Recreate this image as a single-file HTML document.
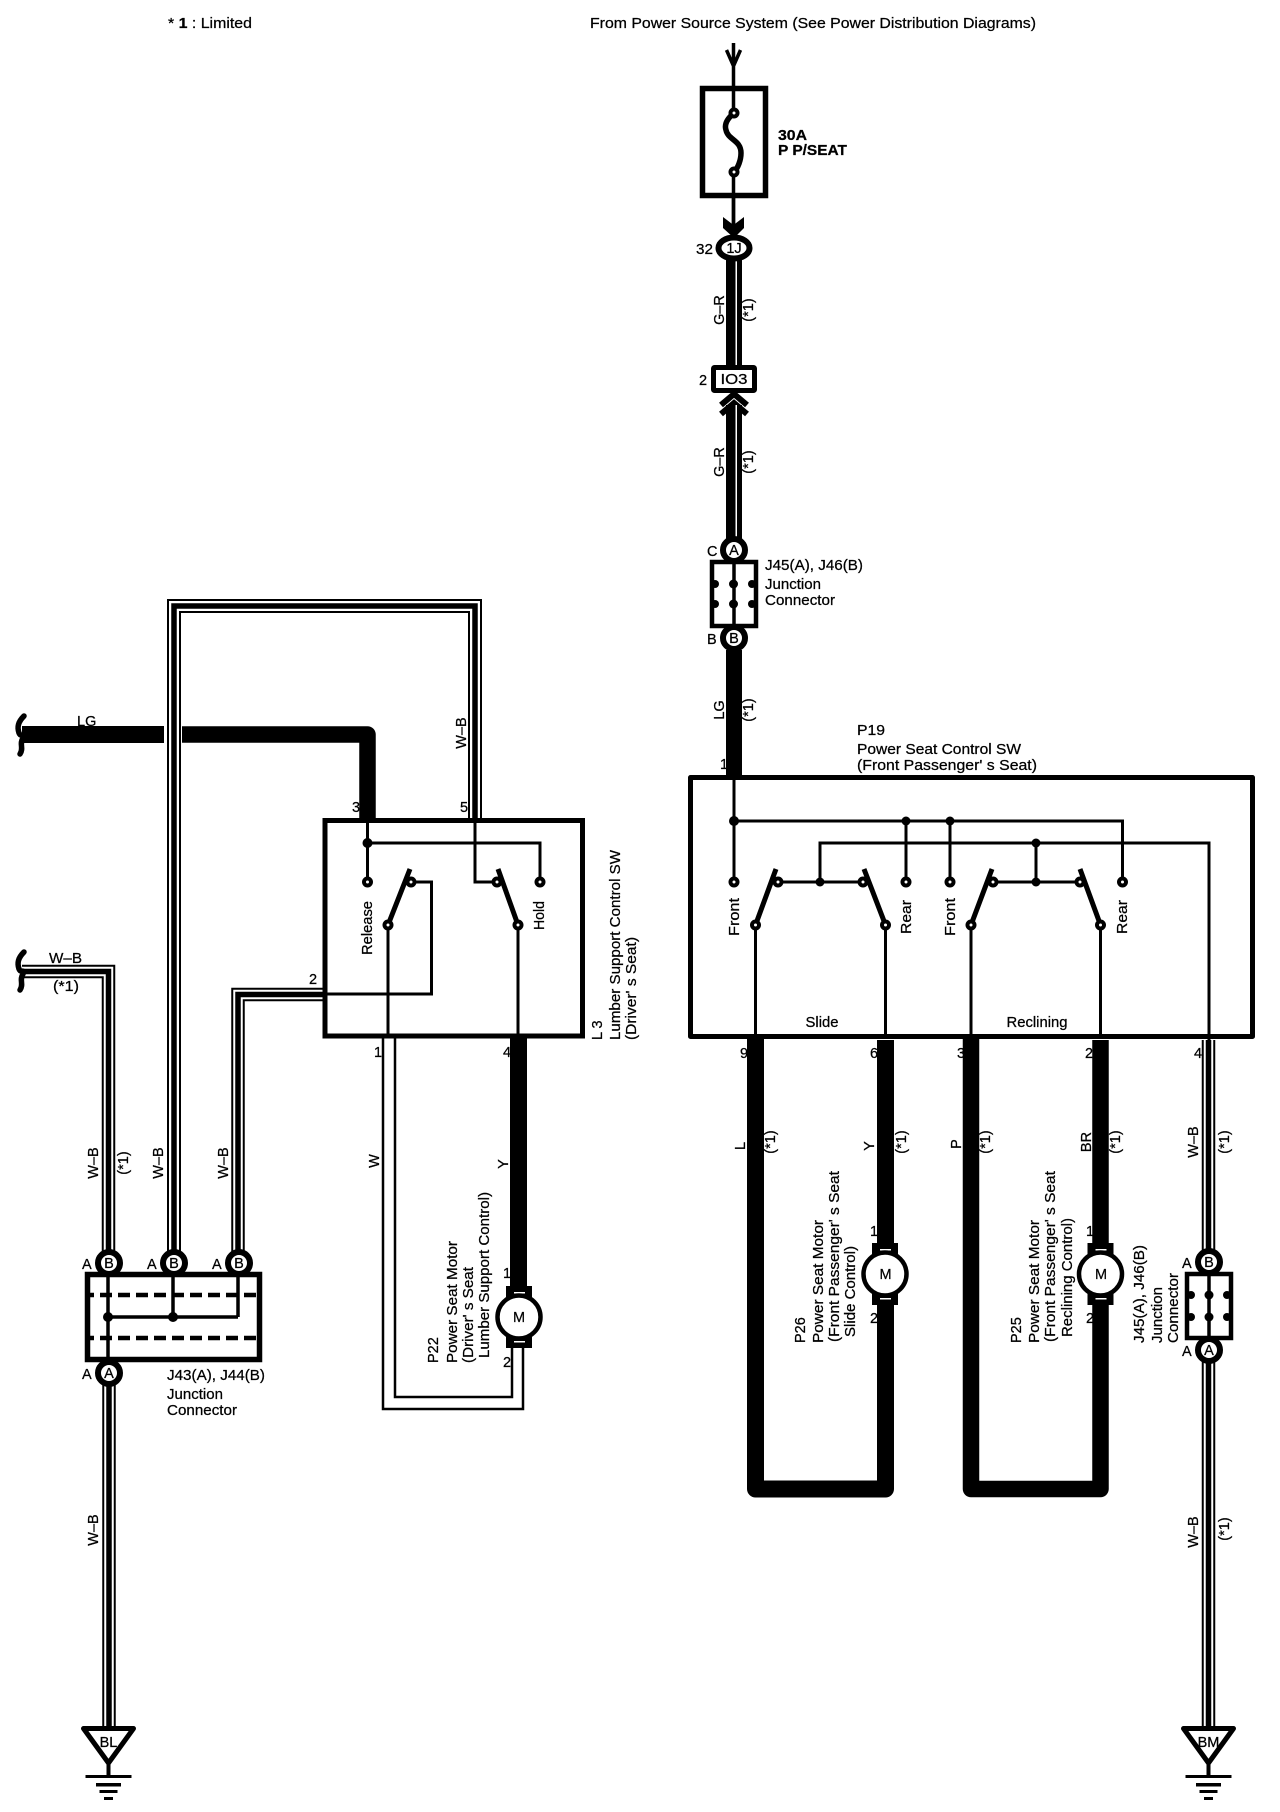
<!DOCTYPE html>
<html><head><meta charset="utf-8"><title>Power Seat Wiring Diagram</title>
<style>
html,body{margin:0;padding:0;background:#fff}
svg{display:block}
text{font-family:"Liberation Sans",sans-serif;font-size:14.5px;fill:#000;stroke:#000;stroke-width:.25px}
.c{text-anchor:middle}
.b{font-weight:bold}
</style></head><body>
<svg xmlns="http://www.w3.org/2000/svg" width="1280" height="1812" viewBox="0 0 1280 1812">
<defs>
<g id="term"><circle r="3.5" fill="#fff" stroke="#000" stroke-width="4"/></g>
<g id="conn"><circle r="11" fill="#fff" stroke="#000" stroke-width="6"/></g>
<g id="motor">
<rect x="-13" y="-31" width="26" height="12" fill="#000"/>
<rect x="-13" y="19" width="26" height="12" fill="#000"/>
<rect x="-5" y="-25" width="11" height="1.5" fill="#fff"/>
<rect x="-5" y="24" width="11" height="1.5" fill="#fff"/>
<circle r="21.5" fill="#fff" stroke="#000" stroke-width="4.5"/>
</g>
<g id="ground">
<path d="M-25 3.5H25L0 38Z" fill="#fff" stroke="#000" stroke-width="5" stroke-linejoin="round"/>
<path d="M0 38V52" stroke="#000" stroke-width="4" fill="none"/>
<rect x="-23" y="50" width="46" height="3" fill="#000"/>
<rect x="-12.5" y="58" width="25" height="3.5" fill="#000"/>
<rect x="-9" y="65" width="18" height="3" fill="#000"/>
<rect x="-4.5" y="72" width="9" height="3" fill="#000"/>
</g>
<path id="brace" d="M25 2C19 8 18 13 20 19C22 24 25 18 24 24C20 30 25 34 21 40" fill="none" stroke="#000" stroke-width="5.5" stroke-linecap="round"/>
</defs>

<!-- top labels -->
<text x="168" y="28" textLength="84" lengthAdjust="spacingAndGlyphs">* <tspan font-weight="bold">1</tspan> : Limited</text>
<text x="590" y="28" textLength="446" lengthAdjust="spacingAndGlyphs">From Power Source System (See Power Distribution Diagrams)</text>

<!-- feed + fuse -->
<path d="M733.5 43V225M726.5 50L733.5 66L740.5 50" fill="none" stroke="#000" stroke-width="3.5"/>
<rect x="702.5" y="88.5" width="63" height="107" fill="#fff" stroke="#000" stroke-width="5.5"/>
<path d="M733.5 86V113M733.5 172V225" stroke="#000" stroke-width="3.5" fill="none"/>
<path d="M734 113C728 118 724 124 726 130C728 140 741 140 741 153C741 160 738 168 734 172" fill="none" stroke="#000" stroke-width="5.5"/>
<use href="#term" x="734" y="113"/><use href="#term" x="734" y="172"/>
<text x="778" y="140" class="b" textLength="29" lengthAdjust="spacingAndGlyphs">30A</text>
<text x="778" y="155" class="b" textLength="69" lengthAdjust="spacingAndGlyphs">P P/SEAT</text>
<polygon points="723,217 733.5,225 744,217 744,228 734,238 723,228" fill="#000"/>

<!-- 1J -->
<rect x="726" y="258" width="16" height="110" fill="#000"/>
<rect x="735.5" y="258" width="1.5" height="110" fill="#fff"/>
<ellipse cx="734" cy="248" rx="15.5" ry="10.5" fill="#fff" stroke="#000" stroke-width="6"/>
<text x="734" y="253" class="c">1J</text>
<text x="696" y="254" textLength="17" lengthAdjust="spacingAndGlyphs">32</text>
<text transform="translate(724,310) rotate(-90)" class="c">G&#8211;R</text>
<text transform="translate(753,310) rotate(-90)" class="c">(*1)</text>

<!-- IO3 -->
<rect x="713.5" y="367.5" width="41" height="23" rx="1" fill="#fff" stroke="#000" stroke-width="5"/>
<text x="734" y="384" class="c" textLength="27" lengthAdjust="spacingAndGlyphs">IO3</text>
<text x="699" y="385">2</text>
<rect x="726" y="405" width="16" height="142" fill="#000"/>
<path d="M721 405L734 394L747 405M721 414L734 403L747 414" fill="none" stroke="#000" stroke-width="6"/>
<rect x="735.5" y="405" width="1.5" height="137" fill="#fff"/>
<text transform="translate(724,462) rotate(-90)" class="c">G&#8211;R</text>
<text transform="translate(753,462) rotate(-90)" class="c">(*1)</text>

<!-- J45 upper -->
<rect x="712" y="562" width="44" height="64" fill="#fff" stroke="#000" stroke-width="4.5"/>
<path d="M734 562V626" stroke="#000" stroke-width="3.5"/>
<g fill="#000">
<circle cx="715" cy="584" r="4"/><circle cx="733.5" cy="584" r="4.5"/><circle cx="752" cy="584" r="4"/>
<circle cx="715" cy="604" r="4"/><circle cx="733.5" cy="604" r="4.5"/><circle cx="752" cy="604" r="4"/>
</g>
<use href="#conn" x="734" y="550"/><use href="#conn" x="734" y="638"/>
<text x="734" y="555" class="c">A</text><text x="734" y="643" class="c">B</text>
<text x="707" y="556">C</text><text x="707" y="644">B</text>
<text x="765" y="570" textLength="98" lengthAdjust="spacingAndGlyphs">J45(A), J46(B)</text>
<text x="765" y="589" textLength="56" lengthAdjust="spacingAndGlyphs">Junction</text>
<text x="765" y="605" textLength="70" lengthAdjust="spacingAndGlyphs">Connector</text>
<rect x="726" y="650" width="16" height="128" fill="#000"/>
<text transform="translate(724,710) rotate(-90)" class="c">LG</text>
<text transform="translate(753,710) rotate(-90)" class="c">(*1)</text>
<text x="720" y="769">1</text>
<text x="857" y="735" textLength="28" lengthAdjust="spacingAndGlyphs">P19</text>
<text x="857" y="754" textLength="164" lengthAdjust="spacingAndGlyphs">Power Seat Control SW</text>
<text x="857" y="770" textLength="180" lengthAdjust="spacingAndGlyphs">(Front Passenger' s Seat)</text>

<!-- right switch box wires -->
<g fill="none" stroke="#000" stroke-linejoin="round">
<path d="M755.5 1036V1489H885.5V1040" stroke-width="17"/>
<path d="M971 1036V1489H1100.5V1040" stroke-width="16.5"/>
<path d="M1208.5 1040V1262M1208.5 1350V1726" stroke-width="13.5"/>
<path d="M1208.5 1040V1262M1208.5 1350V1726" stroke="#fff" stroke-width="9.5"/>
<path d="M1208.5 1040V1262M1208.5 1350V1726" stroke-width="5.5"/>
</g>
<rect x="690.5" y="777.5" width="562" height="259" fill="#fff" stroke="#000" stroke-width="5" stroke-linejoin="round"/>
<g fill="none" stroke="#000" stroke-width="3">
<path d="M734 775V882M734 821H1122.5V882M906 821V882M950 821V882"/>
<path d="M820 882V843H1209V1040M1036 843V882"/>
<path d="M778 882H864M993 882H1080"/>
<path d="M755.5 925V1038M885.5 925V1038M971 925V1038M1100.5 925V1038"/>
</g>
<g stroke="#000" stroke-width="5" fill="none">
<path d="M755.5 925L776 869M885.5 925L864 869M971 925L992 869M1100.5 925L1080 869"/>
</g>
<g fill="#000">
<circle cx="734" cy="821" r="5"/><circle cx="906" cy="821" r="4.5"/><circle cx="950" cy="821" r="4.5"/>
<circle cx="820" cy="882" r="4.5"/><circle cx="1036" cy="843" r="4.5"/><circle cx="1036" cy="882" r="4.5"/>
</g>
<use href="#term" x="734" y="882"/><use href="#term" x="906" y="882"/><use href="#term" x="950" y="882"/><use href="#term" x="1122.5" y="882"/>
<use href="#term" x="778" y="882"/><use href="#term" x="863" y="882"/><use href="#term" x="993" y="882"/><use href="#term" x="1080" y="882"/>
<use href="#term" x="755.5" y="925"/><use href="#term" x="885.5" y="925"/><use href="#term" x="971" y="925"/><use href="#term" x="1100.5" y="925"/>
<text transform="translate(739,917) rotate(-90)" class="c" textLength="38" lengthAdjust="spacingAndGlyphs">Front</text>
<text transform="translate(911,917) rotate(-90)" class="c" textLength="34" lengthAdjust="spacingAndGlyphs">Rear</text>
<text transform="translate(955,917) rotate(-90)" class="c" textLength="38" lengthAdjust="spacingAndGlyphs">Front</text>
<text transform="translate(1127,917) rotate(-90)" class="c" textLength="34" lengthAdjust="spacingAndGlyphs">Rear</text>
<text x="822" y="1027" class="c" textLength="33" lengthAdjust="spacingAndGlyphs">Slide</text>
<text x="1037" y="1027" class="c" textLength="61" lengthAdjust="spacingAndGlyphs">Reclining</text>
<text x="740" y="1058">9</text><text x="870" y="1058">6</text><text x="957" y="1058">3</text><text x="1085" y="1058">2</text><text x="1194" y="1058">4</text>

<text transform="translate(745,1146) rotate(-90)" class="c">L</text>
<text transform="translate(775,1142) rotate(-90)" class="c">(*1)</text>
<text transform="translate(874,1146) rotate(-90)" class="c">Y</text>
<text transform="translate(906,1142) rotate(-90)" class="c">(*1)</text>
<text transform="translate(961,1144) rotate(-90)" class="c">P</text>
<text transform="translate(990,1142) rotate(-90)" class="c">(*1)</text>
<text transform="translate(1091,1142) rotate(-90)" class="c">BR</text>
<text transform="translate(1120,1142) rotate(-90)" class="c">(*1)</text>
<text transform="translate(1198,1142) rotate(-90)" class="c">W&#8211;B</text>
<text transform="translate(1229,1142) rotate(-90)" class="c">(*1)</text>
<text transform="translate(1198,1532) rotate(-90)" class="c">W&#8211;B</text>
<text transform="translate(1229,1529) rotate(-90)" class="c">(*1)</text>

<!-- motors right -->
<use href="#motor" x="885" y="1274"/><text x="885.5" y="1279" class="c">M</text>
<use href="#motor" x="1100.5" y="1274"/><text x="1101" y="1279" class="c">M</text>
<text x="870" y="1236">1</text><text x="870" y="1323">2</text>
<text x="1086" y="1236">1</text><text x="1086" y="1323">2</text>

<text transform="translate(805,1343) rotate(-90)">P26</text>
<text transform="translate(823,1343) rotate(-90)" textLength="123" lengthAdjust="spacingAndGlyphs">Power Seat Motor</text>
<text transform="translate(839,1342) rotate(-90)" textLength="171" lengthAdjust="spacingAndGlyphs">(Front Passenger' s Seat</text>
<text transform="translate(855,1337) rotate(-90)" textLength="91" lengthAdjust="spacingAndGlyphs">Slide Control)</text>
<text transform="translate(1021,1343) rotate(-90)">P25</text>
<text transform="translate(1039,1343) rotate(-90)" textLength="123" lengthAdjust="spacingAndGlyphs">Power Seat Motor</text>
<text transform="translate(1055,1342) rotate(-90)" textLength="171" lengthAdjust="spacingAndGlyphs">(Front Passenger' s Seat</text>
<text transform="translate(1072,1337) rotate(-90)" textLength="119" lengthAdjust="spacingAndGlyphs">Reclining Control)</text>

<!-- J45 lower right -->
<rect x="1187" y="1274" width="44" height="64" fill="#fff" stroke="#000" stroke-width="4.5"/>
<path d="M1209 1274V1338" stroke="#000" stroke-width="3.5"/>
<g fill="#000">
<circle cx="1191" cy="1295" r="4"/><circle cx="1209" cy="1295" r="4.5"/><circle cx="1227" cy="1295" r="4"/>
<circle cx="1191" cy="1317" r="4"/><circle cx="1209" cy="1317" r="4.5"/><circle cx="1227" cy="1317" r="4"/>
</g>
<use href="#conn" x="1209" y="1262"/><use href="#conn" x="1209" y="1350"/>
<text x="1209" y="1267" class="c">B</text><text x="1209" y="1355" class="c">A</text>
<text x="1182" y="1268">A</text><text x="1182" y="1356">A</text>
<text transform="translate(1144,1343) rotate(-90)" textLength="98" lengthAdjust="spacingAndGlyphs">J45(A), J46(B)</text>
<text transform="translate(1162,1343) rotate(-90)" textLength="56" lengthAdjust="spacingAndGlyphs">Junction</text>
<text transform="translate(1178,1343) rotate(-90)" textLength="70" lengthAdjust="spacingAndGlyphs">Connector</text>
<use href="#ground" x="1208.5" y="1725"/>
<text x="1208.5" y="1747" class="c">BM</text>

<!-- Left: long W-B loop -->
<g fill="none" stroke-linejoin="miter">
<path d="M22 971.5H108.5V1263" stroke="#000" stroke-width="13.5"/>
<path d="M22 971.5H108.5V1263" stroke="#fff" stroke-width="9.5"/>
<path d="M22 971.5H108.5V1263" stroke="#000" stroke-width="5.5"/>
<path d="M174 1263V606H475V820" stroke="#000" stroke-width="14"/>
<path d="M174 1263V606H475V820" stroke="#fff" stroke-width="10"/>
<path d="M174 1263V606H475V820" stroke="#000" stroke-width="5.5"/>
<path d="M238 1263V994.5H323" stroke="#000" stroke-width="13.5"/>
<path d="M238 1263V994.5H323" stroke="#fff" stroke-width="9.5"/>
<path d="M238 1263V994.5H323" stroke="#000" stroke-width="5.5"/>
<path d="M109 1373V1726" stroke="#000" stroke-width="13.5"/>
<path d="M109 1373V1726" stroke="#fff" stroke-width="9.5"/>
<path d="M109 1373V1726" stroke="#000" stroke-width="5.5"/>
</g>
<!-- LG wire -->
<path d="M22 734.5H164" stroke="#000" stroke-width="17" fill="none"/>
<path d="M182 734.5H367.5V820" stroke="#000" stroke-width="16.5" fill="none" stroke-linejoin="round"/>
<use href="#brace" x="-1" y="714"/>
<use href="#brace" x="-1" y="950"/>
<text x="77" y="726">LG</text>
<text transform="translate(466,733) rotate(-90)" class="c">W&#8211;B</text>
<text x="49" y="963" textLength="33" lengthAdjust="spacingAndGlyphs">W&#8211;B</text>
<text x="53" y="991" textLength="26" lengthAdjust="spacingAndGlyphs">(*1)</text>
<text transform="translate(98,1163) rotate(-90)" class="c">W&#8211;B</text>
<text transform="translate(128,1163) rotate(-90)" class="c">(*1)</text>
<text transform="translate(163,1163) rotate(-90)" class="c">W&#8211;B</text>
<text transform="translate(228,1163) rotate(-90)" class="c">W&#8211;B</text>
<text transform="translate(98,1530) rotate(-90)" class="c">W&#8211;B</text>

<!-- L3 wires below -->
<g fill="none" stroke="#000">
<path d="M518.5 1036V1290" stroke-width="17"/>
<path d="M383 1036V1409H523V1345" stroke-width="2.5"/>
<path d="M395 1036V1397H512V1345" stroke-width="2.5"/>
</g>
<!-- L3 box -->
<rect x="325" y="820.5" width="257.5" height="215.5" fill="#fff" stroke="#000" stroke-width="5"/>
<g fill="none" stroke="#000" stroke-width="3">
<path d="M367.5 818V882M367.5 843H540V882"/>
<path d="M475 820V882H497"/>
<path d="M411 882H431.5V994H322"/>
<path d="M388 925V1038M518 925V1038"/>
</g>
<g stroke="#000" stroke-width="5" fill="none">
<path d="M388 925L410 869M518 925L498 869"/>
</g>
<circle cx="367.5" cy="843" r="5" fill="#000"/>
<use href="#term" x="367.5" y="882"/><use href="#term" x="540" y="882"/>
<use href="#term" x="411" y="882"/><use href="#term" x="497" y="882"/>
<use href="#term" x="388" y="925"/><use href="#term" x="518" y="925"/>
<text transform="translate(372,955) rotate(-90)" textLength="54" lengthAdjust="spacingAndGlyphs">Release</text>
<text transform="translate(544,930) rotate(-90)" textLength="29" lengthAdjust="spacingAndGlyphs">Hold</text>
<text x="352" y="812">3</text><text x="460" y="812">5</text><text x="309" y="984">2</text>
<text x="374" y="1057">1</text><text x="503" y="1057">4</text>
<text transform="translate(602,1040) rotate(-90)">L 3</text>
<text transform="translate(620,1040) rotate(-90)" textLength="190" lengthAdjust="spacingAndGlyphs">Lumber Support Control SW</text>
<text transform="translate(636,1040) rotate(-90)" textLength="103" lengthAdjust="spacingAndGlyphs">(Driver' s Seat)</text>
<text transform="translate(379,1161) rotate(-90)" class="c">W</text>
<text transform="translate(508,1164) rotate(-90)" class="c">Y</text>

<!-- P22 motor -->
<use href="#motor" x="519" y="1317"/><text x="519" y="1322" class="c">M</text>
<text x="503" y="1278">1</text><text x="503" y="1367">2</text>
<text transform="translate(438,1363) rotate(-90)">P22</text>
<text transform="translate(457,1363) rotate(-90)" textLength="122" lengthAdjust="spacingAndGlyphs">Power Seat Motor</text>
<text transform="translate(473,1363) rotate(-90)" textLength="96" lengthAdjust="spacingAndGlyphs">(Driver' s Seat</text>
<text transform="translate(489,1358) rotate(-90)" textLength="166" lengthAdjust="spacingAndGlyphs">Lumber Support Control)</text>

<!-- J43/J44 -->
<rect x="87.5" y="1274.5" width="172" height="85" fill="#fff" stroke="#000" stroke-width="5.5"/>
<g fill="none" stroke="#000">
<path d="M108 1272V1362M173 1272V1317M238 1272V1317M108 1317H238" stroke-width="3.5"/>
<path d="M87 1295H258M87 1338H258" stroke-width="4.5" stroke-dasharray="12 6" stroke-dashoffset="5"/>
</g>
<circle cx="108" cy="1317" r="5" fill="#000"/><circle cx="173" cy="1317" r="5" fill="#000"/>
<use href="#conn" x="109" y="1263"/><use href="#conn" x="174" y="1263"/><use href="#conn" x="239" y="1263"/><use href="#conn" x="109" y="1373"/>
<text x="109" y="1268" class="c">B</text><text x="174" y="1268" class="c">B</text><text x="239" y="1268" class="c">B</text><text x="109" y="1378" class="c">A</text>
<text x="82" y="1269">A</text><text x="147" y="1269">A</text><text x="212" y="1269">A</text><text x="82" y="1379">A</text>
<text x="167" y="1380" textLength="98" lengthAdjust="spacingAndGlyphs">J43(A), J44(B)</text>
<text x="167" y="1399" textLength="56" lengthAdjust="spacingAndGlyphs">Junction</text>
<text x="167" y="1415" textLength="70" lengthAdjust="spacingAndGlyphs">Connector</text>
<use href="#ground" x="108.5" y="1725"/>
<text x="108.5" y="1747" class="c">BL</text>
</svg>
</body></html>
